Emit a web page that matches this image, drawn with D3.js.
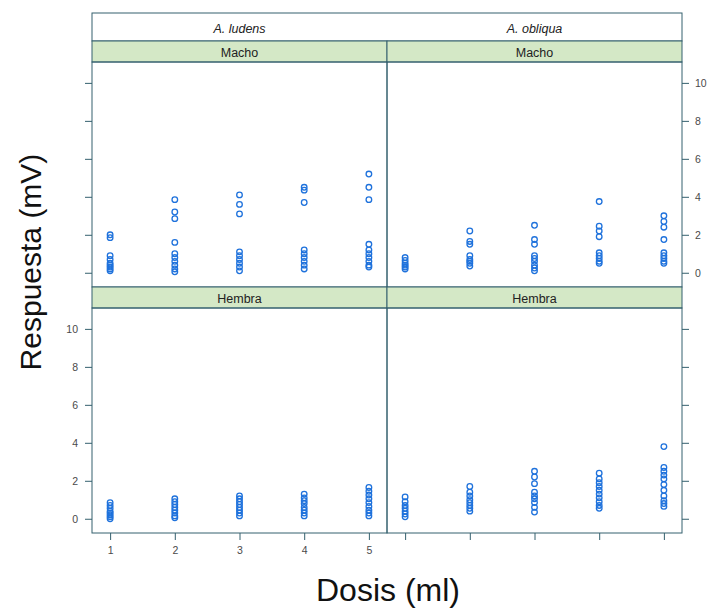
<!DOCTYPE html>
<html>
<head>
<meta charset="utf-8">
<script src="https://cdn.jsdelivr.net/npm/d3@7"></script>
<style>
body { margin: 0; background: #fff; }
text { font-family: "Liberation Sans", Arial, sans-serif; }
</style>
</head>
<body>
<script>
var w = 716;
var h = 612;

// data: one array per dose (1..5) in each panel
var species = ["A. ludens", "A. obliqua"];
var sexes = ["Macho", "Hembra"];
var doses = [1, 2, 3, 4, 5];
var yTicks = [0, 2, 4, 6, 8, 10];

var ludensMacho = [
  [2.0, 1.85, 0.9, 0.7, 0.5, 0.4, 0.3, 0.2, 0.1],
  [3.85, 3.2, 2.85, 1.6, 1.0, 0.8, 0.6, 0.4, 0.2, 0.05],
  [4.1, 3.6, 3.1, 1.1, 0.9, 0.7, 0.5, 0.3, 0.1],
  [4.5, 4.35, 3.7, 1.2, 1.0, 0.8, 0.6, 0.4, 0.2],
  [5.2, 4.5, 3.85, 1.5, 1.2, 1.0, 0.8, 0.6, 0.4, 0.3]
];
var obliquaMacho = [
  [0.8, 0.65, 0.5, 0.4, 0.3, 0.2],
  [2.2, 1.65, 1.5, 0.9, 0.7, 0.6, 0.5, 0.35],
  [2.5, 1.75, 1.5, 0.9, 0.75, 0.6, 0.4, 0.25, 0.1],
  [3.75, 2.45, 2.2, 1.9, 1.05, 0.9, 0.75, 0.6, 0.5],
  [3.0, 2.7, 2.4, 1.75, 1.05, 0.9, 0.75, 0.6, 0.5]
];
var ludensHembra = [
  [0.85, 0.7, 0.55, 0.4, 0.3, 0.2, 0.1, 0.0],
  [1.05, 0.9, 0.75, 0.6, 0.45, 0.3, 0.15, 0.05],
  [1.2, 1.05, 0.9, 0.75, 0.6, 0.45, 0.3, 0.15],
  [1.3, 1.1, 0.95, 0.8, 0.6, 0.45, 0.3, 0.15],
  [1.65, 1.45, 1.25, 1.05, 0.85, 0.65, 0.45, 0.3, 0.15]
];
var obliquaHembra = [
  [1.15, 0.9, 0.7, 0.55, 0.4, 0.25, 0.1],
  [1.7, 1.4, 1.2, 1.0, 0.85, 0.7, 0.55, 0.4],
  [2.5, 2.2, 1.85, 1.4, 1.2, 1.05, 0.85, 0.6, 0.35],
  [2.4, 2.1, 1.9, 1.7, 1.5, 1.3, 1.1, 0.9, 0.7, 0.55],
  [3.8, 2.7, 2.5, 2.3, 2.1, 1.8, 1.5, 1.2, 0.95, 0.8, 0.65]
];

var panels = [
  {col: 0, row: 0, vals: ludensMacho},
  {col: 1, row: 0, vals: obliquaMacho},
  {col: 0, row: 1, vals: ludensHembra},
  {col: 1, row: 1, vals: obliquaHembra}
];

var left = 92, right = 682;
var colW = (right - left) / 2;
var outerTop = 13, outerH = 28;
var stripH = 21, panelH = 225;
var lineCol = "#34606e";

function rowTop(r) { return outerTop + outerH + r * (stripH + panelH); }

var svg = d3.select("body").append("svg")
            .attr("width", w)
            .attr("height", h);

var y0 = d3.scaleLinear().domain([-0.75, 11.1]);

// outer strip with species names
svg.append("rect")
   .attr("x", left).attr("y", outerTop)
   .attr("width", right - left).attr("height", outerH)
   .attr("fill", "#fff").attr("stroke", lineCol);

species.forEach(function(s, i) {
  svg.append("text")
     .text(s)
     .attr("x", left + colW * i + colW / 2)
     .attr("y", outerTop + 20)
     .attr("text-anchor", "middle")
     .attr("font-size", "12.5px")
     .attr("font-style", "italic")
     .attr("fill", "#222");
});

panels.forEach(function(p) {
  var px = left + p.col * colW;
  var sy = rowTop(p.row);
  var py = sy + stripH;

  var x = d3.scaleLinear().domain([0.72, 5.28]).range([px, px + colW]);
  var y = y0.copy().range([py + panelH, py]);

  // strip
  svg.append("rect")
     .attr("x", px).attr("y", sy)
     .attr("width", colW).attr("height", stripH)
     .attr("fill", "#d4e8c6").attr("stroke", lineCol);
  svg.append("text")
     .text(sexes[p.row])
     .attr("x", px + colW / 2)
     .attr("y", sy + 15.5)
     .attr("text-anchor", "middle")
     .attr("font-size", "12.5px")
     .attr("fill", "#222");

  // points
  var pts = [];
  p.vals.forEach(function(arr, i) {
    arr.forEach(function(v) { pts.push({d: doses[i], v: v}); });
  });
  svg.append("g").selectAll("circle")
     .data(pts)
     .enter()
     .append("circle")
     .attr("cx", function(d) { return x(d.d); })
     .attr("cy", function(d) { return y(d.v); })
     .attr("r", 2.8)
     .attr("fill", "none")
     .attr("stroke", "#1f72dc")
     .attr("stroke-width", 1.3);

  // panel box
  svg.append("rect")
     .attr("x", px).attr("y", py)
     .attr("width", colW).attr("height", panelH)
     .attr("fill", "none").attr("stroke", lineCol);

  // y axis: labels alternate left (bottom row) / right (top row)
  if (p.col == 0) {
    var ax = d3.axisLeft(y).tickValues(yTicks).tickSize(7).tickPadding(7)
               .tickFormat(p.row == 1 ? d3.format("d") : "");
    var g = svg.append("g").attr("transform", "translate(" + px + ",0)").call(ax);
    g.select(".domain").remove();
  } else {
    var ax2 = d3.axisRight(y).tickValues(yTicks).tickSize(7).tickPadding(6)
                .tickFormat(p.row == 0 ? d3.format("d") : "");
    var g2 = svg.append("g").attr("transform", "translate(" + (px + colW) + ",0)").call(ax2);
    g2.select(".domain").remove();
  }

  // x axis on bottom row
  if (p.row == 1) {
    var bx = d3.axisBottom(x).tickValues(doses).tickSize(7).tickPadding(7)
               .tickFormat(p.col == 0 ? d3.format("d") : "");
    var g3 = svg.append("g").attr("transform", "translate(0," + (py + panelH) + ")").call(bx);
    g3.select(".domain").remove();
  }
});

svg.selectAll(".tick line").attr("stroke", lineCol);
svg.selectAll(".tick text")
   .attr("font-size", "10.5px")
   .attr("fill", "#4a4a4a")
   .attr("font-family", "'Liberation Sans', Arial, sans-serif");

// axis titles
svg.append("text")
   .text("Respuesta (mV)")
   .attr("transform", "translate(41,262) rotate(-90)")
   .attr("text-anchor", "middle")
   .attr("font-size", "30px")
   .attr("fill", "#111");

svg.append("text")
   .text("Dosis (ml)")
   .attr("x", 388)
   .attr("y", 601)
   .attr("text-anchor", "middle")
   .attr("font-size", "32px")
   .attr("fill", "#111");
</script>
</body>
</html>
